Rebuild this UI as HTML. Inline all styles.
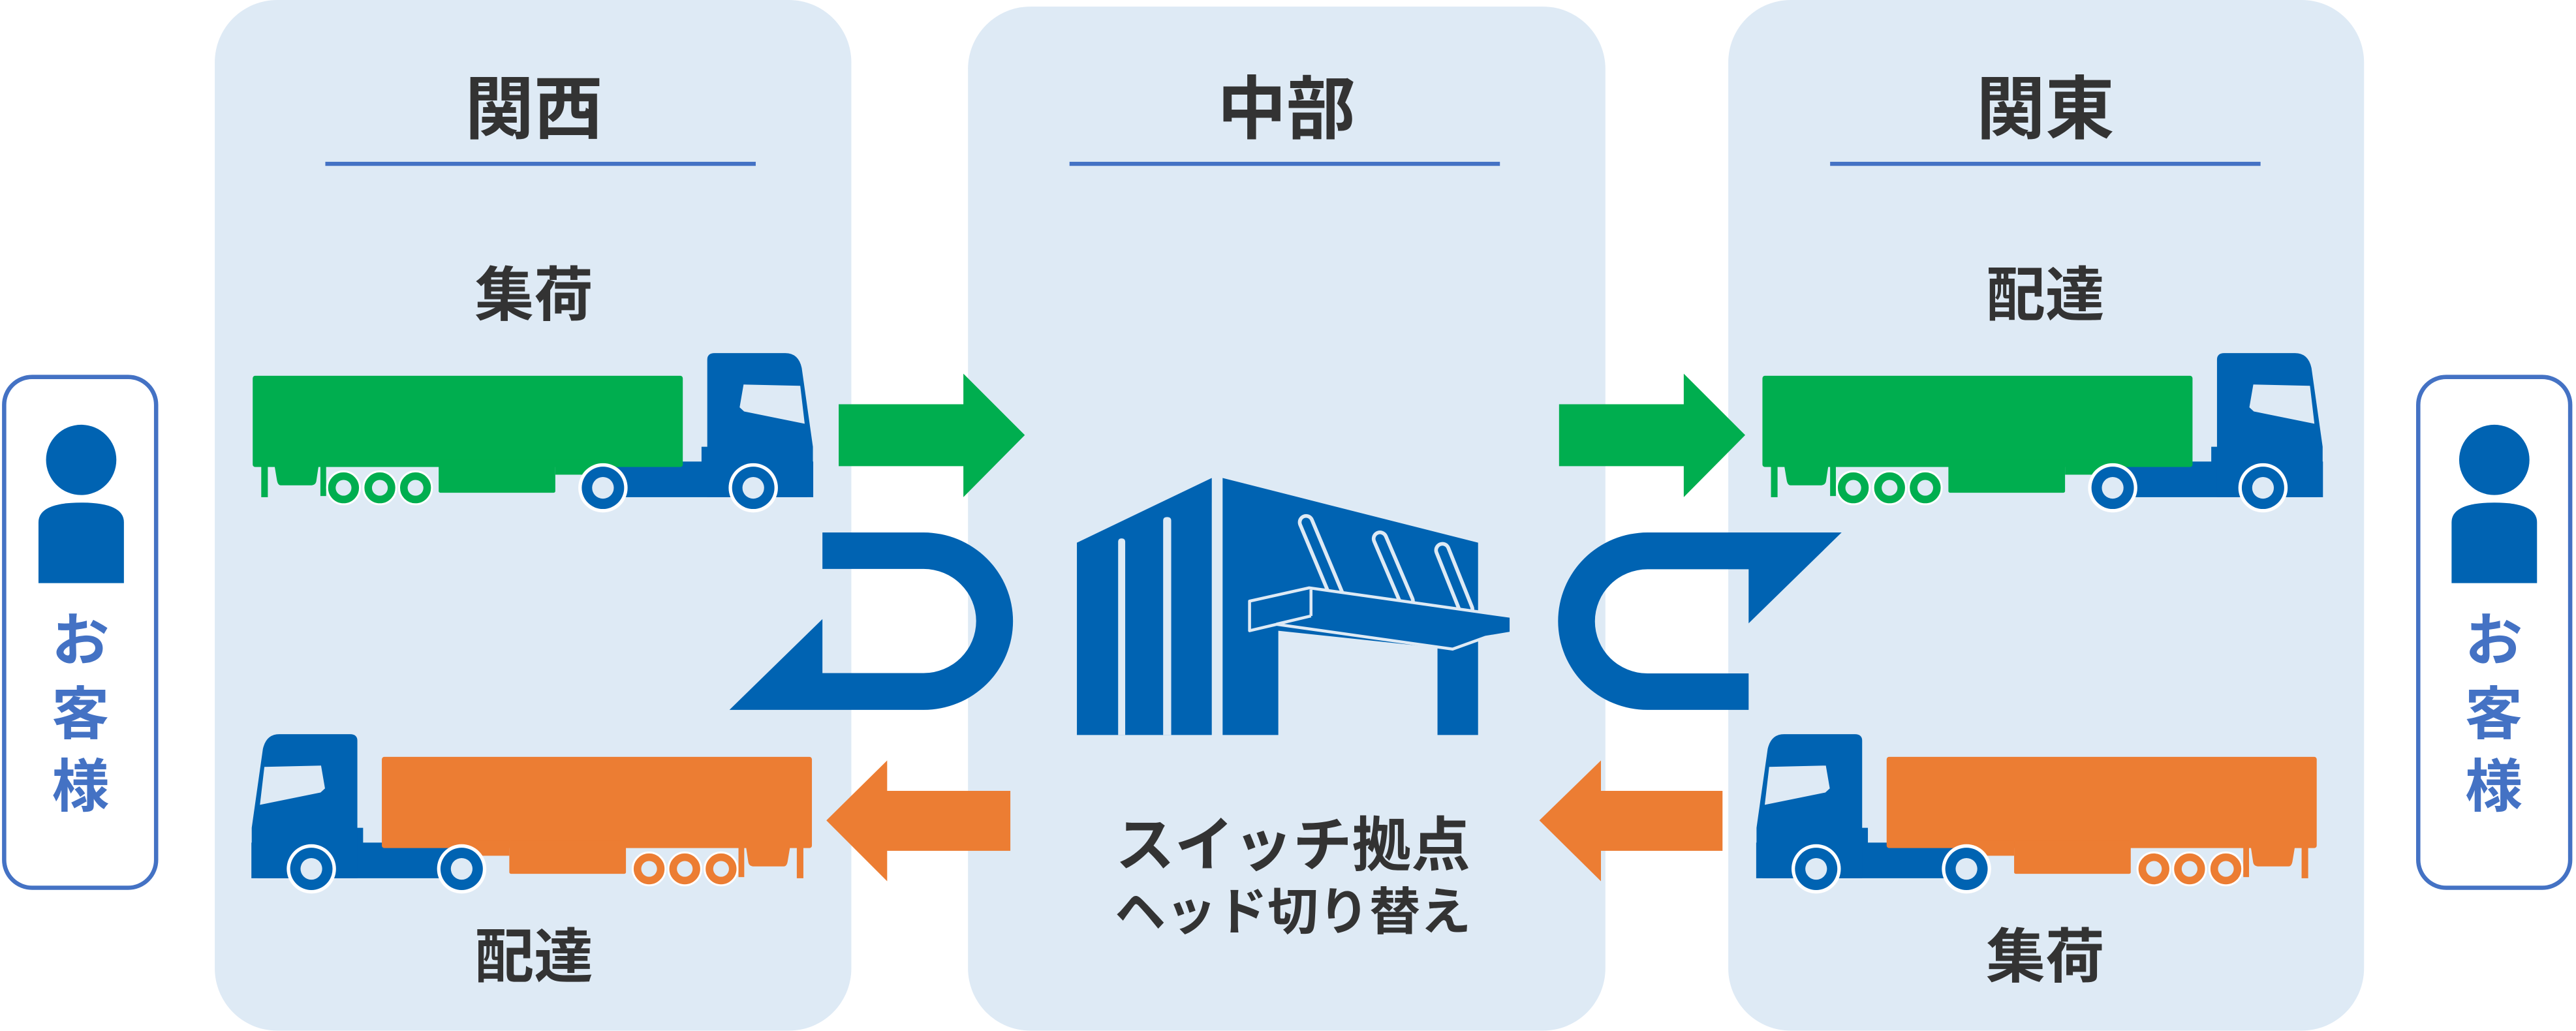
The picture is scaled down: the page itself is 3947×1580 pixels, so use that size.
<!DOCTYPE html>
<html><head><meta charset="utf-8"><style>
html,body{margin:0;padding:0;background:#fff;}
svg{display:block;}
text{font-family:"Liberation Sans","Noto Sans CJK JP",sans-serif;font-weight:bold;}
</style></head><body>
<svg width="3947" height="1580" viewBox="0 0 1568 627.7" xmlns="http://www.w3.org/2000/svg">
<defs>
<g id="truck">
  <rect x="358" y="281" width="137" height="21.7" fill="#0063b2"/>
  <rect x="427" y="272" width="5" height="12" fill="#0063b2"/>
  <path d="M430.5,302.7 V219 Q430.5,215 435,215 H478 Q486,215 488,224 L494.8,272 V298 Q494.8,302.7 490,302.7 Z" fill="#0063b2"/>
  <path d="M452.6,234.1 L487.1,234.9 L489.8,258 L452.9,250.5 L450.2,248 Z" fill="#deeaf5"/>
  <rect x="153.8" y="228.8" width="261.8" height="55.5" rx="1.5" fill="currentColor"/>
  <rect x="267" y="280" width="71" height="20" rx="1" fill="currentColor"/>
  <rect x="338" y="280" width="24" height="9" fill="currentColor"/>
  <rect x="159" y="283" width="4" height="19.7" fill="currentColor"/>
  <path d="M167,283 H194 L192.5,293 Q192,295.5 189,295.5 H171 Q169,295.5 168.5,292 Z" fill="currentColor"/>
  <rect x="195" y="283" width="3.5" height="19" fill="currentColor"/>
  <g stroke="#fff" stroke-width="1.2">
    <circle cx="209.1" cy="297" r="10" fill="currentColor"/>
    <circle cx="231.2" cy="297" r="10" fill="currentColor"/>
    <circle cx="252.9" cy="297" r="10" fill="currentColor"/>
  </g>
  <circle cx="209.1" cy="297" r="4.8" fill="#deeaf5"/>
  <circle cx="231.2" cy="297" r="4.8" fill="#deeaf5"/>
  <circle cx="252.9" cy="297" r="4.8" fill="#deeaf5"/>
  <circle cx="367" cy="297" r="15" fill="#fff"/>
  <circle cx="458.5" cy="297" r="15" fill="#fff"/>
  <circle cx="367" cy="297" r="12.9" fill="#0063b2"/>
  <circle cx="458.5" cy="297" r="12.9" fill="#0063b2"/>
  <circle cx="367" cy="297" r="6.6" fill="#deeaf5"/>
  <circle cx="458.5" cy="297" r="6.6" fill="#deeaf5"/>
</g>
<g id="person">
  <circle cx="0" cy="280" r="21.4" fill="#0063b2"/>
  <path d="M-26,355 V318 Q-26,306 0,306 Q26,306 26,318 V355 Z" fill="#0063b2"/>
</g>
<path id="uturn" d="M500.6,324.2 H562.2 A54.4,54 0 0 1 562.2,432.2 H444 L500.6,376.9 V409.8 H562.2 A32,31.7 0 0 0 562.2,346.4 H500.6 Z" fill="#0063b2"/>
</defs>

<rect x="130.7" y="0" width="387.5" height="627.5" rx="38" fill="#deeaf5"/>
<rect x="589.2" y="4" width="388" height="623.5" rx="38" fill="#deeaf5"/>
<rect x="1052" y="0" width="387" height="627.5" rx="38" fill="#deeaf5"/>

<g fill="#333" text-anchor="middle">
  <text x="325" y="81" font-size="42">関西</text>
  <text x="783" y="81" font-size="42">中部</text>
  <text x="1245" y="81" font-size="42">関東</text>
  <text x="325" y="192" font-size="36">集荷</text>
  <text x="1245" y="192" font-size="36">配達</text>
  <text x="325" y="595" font-size="36">配達</text>
  <text x="1245" y="595" font-size="36">集荷</text>
  <text x="787" y="527" font-size="36">スイッチ拠点</text>
  <text x="787" y="566" font-size="31">ヘッド切り替え</text>
</g>
<g fill="#4472c4">
  <rect x="198" y="98.5" width="262" height="2.5"/>
  <rect x="651" y="98.5" width="262" height="2.5"/>
  <rect x="1114" y="98.5" width="262" height="2.5"/>
</g>

<rect x="2.5" y="229.5" width="92.5" height="311" rx="17" fill="#fff" stroke="#4472c4" stroke-width="2.6"/>
<rect x="1472" y="229.5" width="92.5" height="311" rx="17" fill="#fff" stroke="#4472c4" stroke-width="2.6"/>
<use href="#person" x="49.4" y="0"/>
<use href="#person" x="1518.3" y="0"/>
<g fill="#4472c4" text-anchor="middle" font-size="35">
  <text x="49" y="402">お</text>
  <text x="49" y="447">客</text>
  <text x="49" y="491">様</text>
  <text x="1518" y="402">お</text>
  <text x="1518" y="447">客</text>
  <text x="1518" y="491">様</text>
</g>

<use href="#truck" color="#00ae4f"/>
<use href="#truck" color="#00ae4f" transform="translate(919,0)"/>
<use href="#truck" color="#ec7d33" transform="translate(648,232) scale(-1,1)"/>
<use href="#truck" color="#ec7d33" transform="translate(1564,232) scale(-1,1)"/>

<path d="M510.5,246.1 H586.4 V227.5 L623.8,264.9 L586.4,302.7 V283.8 H510.5 Z" fill="#00ae4f"/>
<path d="M949,246.1 H1024.9 V227.5 L1062.3,264.9 L1024.9,302.7 V283.8 H949 Z" fill="#00ae4f"/>
<path d="M615,481.5 H540 V463 L503,499.5 L540,536.5 V518 H615 Z" fill="#ec7d33"/>
<path d="M1048.5,481.5 H974.5 V463 L937,499.5 L974.5,536.5 V518 H1048.5 Z" fill="#ec7d33"/>

<use href="#uturn"/>
<use href="#uturn" transform="rotate(180 782.5 378.2)"/>

<g fill="#0063b2">
  <path d="M655.5,330.4 L737.6,291 V447.5 H655.5 Z"/>
  <path d="M744.2,291 L899.7,330.4 V447.5 H875 V394.3 L778.1,384 V447.5 H744.2 Z"/>
</g>
<g fill="#deeaf5">
  <path d="M680.6,447.5 V330 Q680.6,327.8 682.7,327.8 Q684.9,327.8 684.9,330 V447.5 Z"/>
  <path d="M708,447.5 V317 Q708,314.8 710.4,314.8 Q712.9,314.8 712.9,317 V447.5 Z"/>
</g>
<g stroke-linecap="round" fill="none">
  <g stroke="#deeaf5" stroke-width="10">
    <line x1="795" y1="318" x2="813.4" y2="362"/>
    <line x1="840" y1="328" x2="856.2" y2="366"/>
    <line x1="878" y1="335" x2="892.4" y2="371"/>
  </g>
  <g stroke="#0063b2" stroke-width="5.5">
    <line x1="795" y1="318" x2="813.4" y2="362"/>
    <line x1="840" y1="328" x2="856.2" y2="366"/>
    <line x1="878" y1="335" x2="892.4" y2="371"/>
  </g>
</g>
<path d="M760.6,366 L796.9,357.9 L919.8,375.3 V385.4 L904.2,388 L884.2,395.2 L777.1,380.1 L760.6,384 Z" fill="#0063b2" stroke="#deeaf5" stroke-width="1.8" stroke-linejoin="round"/>
<line x1="798" y1="359" x2="798" y2="375" stroke="#deeaf5" stroke-width="1.8"/>
<line x1="777" y1="380" x2="798" y2="375" stroke="#deeaf5" stroke-width="1.8"/>
</svg>
</body></html>
